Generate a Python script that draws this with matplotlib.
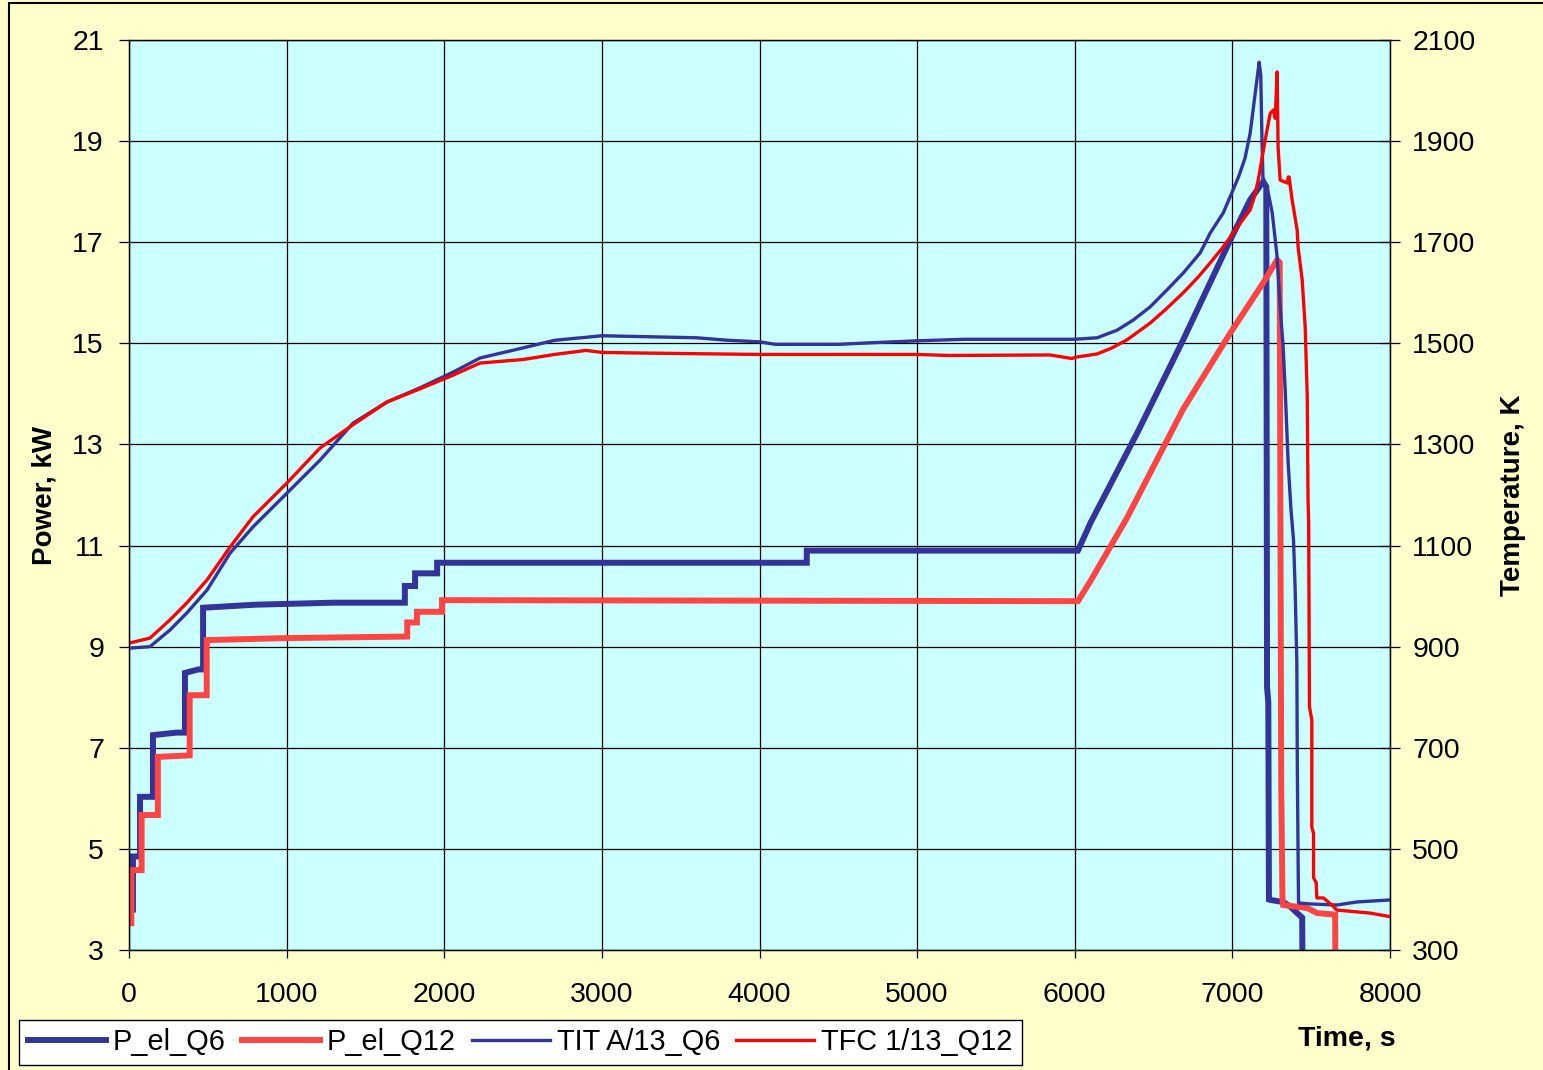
import numpy as np
import matplotlib
matplotlib.use("Agg")
import matplotlib.pyplot as plt
from matplotlib.patches import Rectangle

plt.rcParams['font.family'] = ['Liberation Sans', 'DejaVu Sans']

# electric power, kW (time in s)
t_pq6 = [0, 25, 25, 70, 70, 152, 152, 300, 355, 355, 440, 470, 470, 800, 1300,
         1750, 1750, 1815, 1815, 1955, 1955, 4300, 4300, 6020, 6100, 6400, 6688,
         6986, 7113, 7196, 7215, 7220, 7228, 7232, 7240, 7322, 7367, 7411, 7443, 7445]
p_q6 = [3.8, 3.8, 4.85, 4.85, 6.03, 6.03, 7.25, 7.3, 7.3, 8.48, 8.55, 8.55, 9.77, 9.83, 9.87,
        9.87, 10.2, 10.2, 10.45, 10.45, 10.66, 10.66, 10.9, 10.9, 11.45, 13.25, 15.07,
        17.04, 17.84, 18.2, 18.1, 8.2, 7.9, 4.0, 3.99, 3.95, 3.86, 3.73, 3.64, 2.5]

t_pq12 = [0, 15, 15, 80, 80, 183, 183, 385, 385, 493, 493, 1000, 1765, 1765, 1827, 1827,
          1986, 1986, 6020, 6100, 6332, 6688, 6986, 7196, 7284, 7300, 7310, 7318,
          7322, 7475, 7538, 7652, 7654]
p_q12 = [3.53, 3.53, 4.58, 4.58, 5.67, 5.67, 6.82, 6.85, 8.04, 8.04, 9.13, 9.17, 9.2, 9.48, 9.48, 9.69,
         9.69, 9.92, 9.9, 10.3, 11.55, 13.7, 15.2, 16.2, 16.65, 16.6, 6.2, 4.0,
         3.89, 3.83, 3.73, 3.7, 2.5]

# temperatures, K
t_tit = [0, 133, 260, 368, 495, 641, 787, 1003, 1212, 1421, 1637, 1846, 2056, 2227,
         2500, 2700, 3000, 3300, 3600, 3800, 4000, 4100, 4500, 4700, 5000, 5300, 6000,
         6142, 6269, 6371, 6478, 6586, 6688, 6796, 6859, 6942, 6986, 7040, 7080,
         7113, 7145, 7170, 7180, 7188, 7195, 7220,
         7253, 7284, 7303, 7322, 7335, 7354, 7372, 7388, 7398, 7409, 7412, 7418, 7420,
         7500, 7663, 7790, 8000]
T_tit = [897, 900, 933, 967, 1012, 1085, 1137, 1204, 1269, 1342, 1384, 1412, 1443, 1471,
         1491, 1506, 1515, 1513, 1511, 1506, 1503, 1498, 1498, 1501, 1505, 1508, 1508,
         1511, 1526, 1546, 1572, 1606, 1639, 1679, 1718, 1758, 1790, 1830, 1866,
         1916, 1995, 2056, 2030, 1900, 1815, 1809,
         1758, 1671, 1572, 1493, 1408, 1263, 1170, 1111, 1016, 868, 662, 445, 393,
         391, 389, 395, 399]

t_tfc = [0, 133, 260, 368, 495, 641, 787, 1003, 1212, 1421, 1637, 1846, 2056, 2227,
         2500, 2700, 2900, 3000, 3200, 4000, 5000, 5200, 5844, 5980, 6015, 6142, 6230,
         6332, 6478, 6580, 6688, 6780, 6859, 6940, 7005, 7060, 7113, 7140, 7164, 7208,
         7240, 7262, 7272, 7284, 7290, 7303,
         7350, 7354, 7360, 7379, 7411, 7417, 7443, 7462, 7475, 7480, 7484, 7489, 7504,
         7504, 7515, 7515, 7532, 7536, 7578, 7631, 7663, 7874, 8000]
T_tfc = [907, 917, 953, 987, 1032, 1097, 1157, 1224, 1293, 1339, 1384, 1410, 1437, 1461,
         1468, 1478, 1486, 1482, 1481, 1478, 1478, 1476, 1477, 1470, 1473, 1479, 1490,
         1507, 1540, 1568, 1600, 1630, 1659, 1690, 1718, 1742, 1764, 1790, 1823, 1902,
         1955, 1962, 1945, 2037, 1888, 1823,
         1817, 1829, 1829, 1784, 1724, 1690, 1625, 1532, 1394, 1190, 1145, 781, 755,
         543, 531, 443, 433, 403, 403, 389, 379, 373, 366]

x_ticks = np.arange(0, 8001, 1000)
p_ticks = np.arange(3, 22, 2)
T_ticks = np.arange(300, 2101, 200)

fig = plt.figure(figsize=(15.43, 10.70), dpi=100, facecolor='#FFFFCC')
ax = fig.add_axes([129/1543, 1-950/1070, (1390-129)/1543, (950-40)/1070])
ax.set_facecolor('#CCFFFF')
ax2 = ax.twinx()

l1, = ax.plot(t_pq6, p_q6, color='#333399', lw=4.3, solid_joinstyle='miter', label='P_el_Q6')
l2, = ax.plot(t_pq12, p_q12, color='#FF4444', lw=4.3, solid_joinstyle='miter', label='P_el_Q12')
l3, = ax2.plot(t_tit, T_tit, color='#333399', lw=2.4, label='TIT A/13_Q6')
l4, = ax2.plot(t_tfc, T_tfc, color='#FF0000', lw=2.4, label='TFC 1/13_Q12')

ax.set_xlim(0, 8000)
ax.set_ylim(3, 21)
ax2.set_ylim(300, 2100)
ax.set_xticks(x_ticks)
ax.set_yticks(p_ticks)
ax2.set_yticks(T_ticks)
ax.grid(True, color='black', lw=0.9)

for a in (ax, ax2):
    for s in a.spines.values():
        s.set_color('black')
        s.set_linewidth(0.9)

ax.tick_params(axis='x', direction='out', length=6, width=0.9, pad=17, labelsize=20.5)
ax.tick_params(axis='y', direction='out', length=7, width=0.9, pad=11, labelsize=20.5)
ax2.tick_params(axis='y', direction='inout', length=14, width=0.9, pad=9, labelsize=20.5)

ax.set_ylabel('Power, kW', fontsize=20, fontweight='bold')
ax.yaxis.set_label_coords(-0.057, 0.5)
ax2.set_ylabel('Temperature, K', fontsize=20, fontweight='bold')
ax2.yaxis.set_label_coords(1.087, 0.5)

fig.text(1347/1543, 1-1038/1070, 'Time, s', ha='center', va='center',
         fontsize=20.5, fontweight='bold')

leg = fig.legend(handles=[l1, l2, l3, l4], loc='lower left', ncol=4,
                 bbox_to_anchor=(19/1543, 5/1070), fontsize=20.8, frameon=True,
                 fancybox=False, edgecolor='black', facecolor='white', framealpha=1,
                 handlelength=2.7, handletextpad=0.25, columnspacing=0.55,
                 borderpad=0.3, borderaxespad=0)
leg.get_frame().set_linewidth(1.0)

# outer chart border
fig.patches.append(Rectangle((9/1543, -0.01), 1.0, 1-3/1070+0.01, transform=fig.transFigure,
                             fill=False, edgecolor='black', lw=1.5))

fig.savefig('out.png', dpi=100, facecolor=fig.get_facecolor())
